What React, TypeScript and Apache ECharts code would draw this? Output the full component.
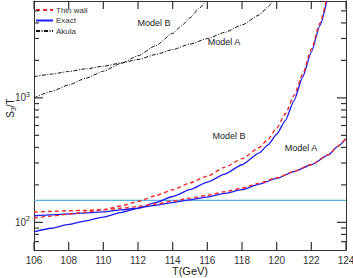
import React, { useEffect, useRef } from "react";
import * as echarts from "echarts";

// Temperatures (GeV) and S3/T values
const T_THIN_B = [106, 107, 108, 109, 110, 111, 112, 113, 114, 115, 116, 117, 118, 119, 119.5, 120, 120.5, 121, 121.5, 122, 122.5, 122.85];
const THIN_B = [108.4, 112.2, 116.4, 121, 126.5, 135.5, 147.2, 163.7, 182.8, 207.5, 235.5, 276.7, 325.1, 399.9, 464.5, 571.5, 744.7, 1047, 1549, 2455, 3981, 6000];

const T_EXACT_B = [106, 107, 108, 109, 110, 111, 112, 113, 114, 115, 116, 117, 118, 119, 119.5, 120, 120.5, 121, 121.5, 122, 122.5, 122.89];
const EXACT_B = [83.8, 89.7, 96.2, 103, 110.4, 119.7, 129.7, 143.9, 161.4, 183.2, 210.4, 244.3, 290.4, 361.4, 419.8, 510.5, 657.7, 950.6, 1472, 2333, 3828, 6000];

const T_THIN_A = [106, 107, 108, 109, 110, 111, 112, 113, 114, 115, 116, 117, 118, 119, 120, 121, 122, 123, 123.5, 124];
const THIN_A = [121.1, 122.5, 123.9, 125.0, 126.5, 129.7, 134.0, 140.3, 148.2, 156.7, 165.2, 176.2, 188.4, 206.5, 228.0, 257.0, 291.7, 350.8, 406.4, 472.0];

const T_EXACT_A = [106, 107, 108, 109, 110, 111, 112, 113, 114, 115, 116, 117, 118, 119, 120, 121, 122, 123, 123.5, 124];
const EXACT_A = [113, 115.1, 117.2, 119.4, 121.6, 125.9, 130.3, 137.1, 144.2, 151.7, 159.6, 171, 183.2, 203.2, 225.4, 255.9, 290.4, 349.1, 405.5, 471];

const T_AKULA_A = [106, 107, 108, 109, 110, 111, 112, 113, 114, 115, 116, 117, 118, 119, 119.5, 119.76];
const AKULA_A = [1479, 1552, 1629, 1710, 1795, 1905, 2032, 2228, 2443, 2704, 2992, 3357, 3855, 4634, 5383, 6000];

const T_AKULA_B = [106, 107, 108, 109, 110, 111, 112, 113, 114, 114.5, 115, 115.5, 115.9];
const AKULA_B = [1000, 1125, 1271, 1441, 1637, 1888, 2178, 2618, 3296, 3784, 4395, 5190, 6000];

const T_REF = [106, 124];
const REF = [150, 150];

const X_MIN = 106;
const X_MAX = 124;
const X_STEP = 2;
const X_TICKS = [106, 108, 110, 112, 114, 116, 118, 120, 122, 124];
const Y_MIN = 60;
const Y_MAX = 6000;
const Y_MAJOR = [100, 1000];
const Y_MINOR = [70, 80, 90, 200, 300, 400, 500, 600, 700, 800, 900, 2000, 3000, 4000, 5000];

const LEGEND = ["Thin wall", "Exact", "Akula"];

const FONT = "'Liberation Sans', Arial, Helvetica, sans-serif";

const pairs = (xs: number[], ys: number[]) => xs.map((x, i) => [x, ys[i]]);

export default function App() {
  const ref = useRef<HTMLDivElement>(null);
  useEffect(() => {
    if (!ref.current) return;
    const chart = echarts.init(ref.current, undefined, { renderer: "svg" });
    const axisColor = "#333";
    const red = "#f02a2a";
    const blue = "#1c1cf0";
    const black = "#111";
    const lineBase = {
      type: "line" as const,
      symbol: "none",
      showSymbol: false,
      smooth: 0.2,
      smoothMonotone: "x",
      xAxisIndex: 0,
      yAxisIndex: 0,
    };
    const yCommon = {
      type: "log" as const,
      logBase: 10,
      min: Y_MIN,
      max: Y_MAX,
      splitLine: { show: false },
      axisTick: { show: false },
    };
    const tickLine = (x1: number, y1: number, x2: number, y2: number) => ({
      type: "line",
      shape: { x1, y1, x2, y2 },
      style: { stroke: "#333333", lineWidth: 1.2 },
    });
    // tick rows: [x, y, length, kind] ; kind 0 = x tick, 1 = y tick
    const tickRows = [
      ...X_TICKS.map((v) => [v, Y_MIN, 8, 0]),
      ...Y_MAJOR.map((v) => [X_MIN, v, 9, 1]),
      ...Y_MINOR.map((v) => [X_MIN, v, 5, 1]),
    ];
    const option: any = {
      animation: false,
      textStyle: { fontFamily: FONT },
      grid: { left: 34, right: 7, top: 1, bottom: 28, containLabel: false, outerBoundsMode: "none" },
      legend: {
        data: LEGEND,
        orient: "vertical",
        left: 35,
        top: 6,
        padding: 0,
        itemWidth: 17,
        itemHeight: 8,
        itemGap: 2.5,
        itemStyle: { opacity: 0 },
        textStyle: { fontSize: 8, color: "#333", fontFamily: FONT, padding: [0, 0, 0, -2] },
        selectedMode: false,
      },
      xAxis: [
        {
          type: "value",
          min: X_MIN,
          max: X_MAX,
          interval: X_STEP,
          position: "bottom",
          name: "T(GeV)",
          nameLocation: "middle",
          nameGap: 15,
          nameMoveOverlap: false,
          nameTextStyle: { fontSize: 11, lineHeight: 11, color: "#222", fontFamily: FONT },
          axisLine: { show: true, lineStyle: { color: axisColor, width: 1 } },
          axisTick: { show: false },
          axisLabel: { fontSize: 10, color: "#333", margin: 5, fontFamily: FONT },
          splitLine: { show: false },
        },
        {
          type: "value",
          min: X_MIN,
          max: X_MAX,
          interval: X_STEP,
          position: "top",
          axisLine: { show: true, lineStyle: { color: axisColor, width: 1 } },
          axisTick: { show: false },
          axisLabel: { show: false },
          splitLine: { show: false },
        },
      ],
      yAxis: [
        {
          ...yCommon,
          position: "left",
          axisLine: { show: true, lineStyle: { color: axisColor, width: 1 } },
          axisLabel: {
            show: true,
            customValues: Y_MAJOR,
            margin: 4,
            formatter: (v: number) => "{b|10}{s|" + Math.round(Math.log10(v)) + "}",
            rich: {
              b: { fontSize: 10, color: "#333", fontFamily: FONT, lineHeight: 14 },
              s: { fontSize: 7, color: "#333", fontFamily: FONT, lineHeight: 8, verticalAlign: "top" },
            },
          },
        },
        {
          ...yCommon,
          position: "right",
          axisLine: { show: true, lineStyle: { color: axisColor, width: 1 } },
          axisLabel: { show: false },
        },
      ],
      graphic: [
        {
          type: "text",
          x: 10,
          y: 108,
          rotation: Math.PI / 2,
          style: {
            text: "{b|S}{s|3}{b|/T}",
            textAlign: "center",
            textVerticalAlign: "middle",
            align: "center",
            verticalAlign: "middle",
            rich: {
              b: { fontSize: 10, fill: "#222", fontFamily: FONT, lineHeight: 14 },
              s: { fontSize: 7, fill: "#222", fontFamily: FONT, lineHeight: 7, verticalAlign: "bottom" },
            },
          },
        },
        ...[
          ["Model B", 154, 23],
          ["Model A", 224, 42],
          ["Model B", 229, 136],
          ["Model A", 301, 148],
        ].map(([t, x, y]) => ({
          type: "text",
          x,
          y,
          style: {
            text: t,
            fontSize: 9,
            fontFamily: FONT,
            fill: "#222",
            textAlign: "center",
            textVerticalAlign: "middle",
            align: "center",
            verticalAlign: "middle",
          },
        })),
      ],
      series: [
        {
          type: "custom",
          name: "ticks",
          coordinateSystem: "cartesian2d",
          xAxisIndex: 0,
          yAxisIndex: 0,
          silent: true,
          clip: false,
          data: tickRows,
          renderItem: (params: any, api: any) => {
            const cs = params.coordSys;
            const p = api.coord([api.value(0), api.value(1)]);
            const len = api.value(2);
            const kind = api.value(3);
            if (kind === 0) {
              const b = cs.y + cs.height;
              return {
                type: "group",
                children: [tickLine(p[0], b, p[0], b - len), tickLine(p[0], cs.y, p[0], cs.y + len)],
              };
            }
            const r = cs.x + cs.width;
            return {
              type: "group",
              children: [tickLine(cs.x, p[1], cs.x + len, p[1]), tickLine(r, p[1], r - len, p[1])],
            };
          },
          z: 5,
        },
        {
          ...lineBase,
          name: "ref",
          smooth: false,
          data: pairs(T_REF, REF),
          lineStyle: { color: "#5aafe3", width: 1.2 },
          itemStyle: { color: "#5aafe3" },
          z: 1,
        },
        {
          ...lineBase,
          name: "Akula",
          data: pairs(T_AKULA_A, AKULA_A),
          lineStyle: { color: black, width: 1, type: [4, 1.5, 1, 1.5] },
          itemStyle: { color: black },
        },
        {
          ...lineBase,
          name: "Akula",
          data: pairs(T_AKULA_B, AKULA_B),
          lineStyle: { color: black, width: 1, type: [4, 1.5, 1, 1.5] },
          itemStyle: { color: black },
        },
        {
          ...lineBase,
          name: "Exact",
          data: pairs(T_EXACT_A, EXACT_A),
          lineStyle: { color: blue, width: 1.3 },
          itemStyle: { color: blue },
        },
        {
          ...lineBase,
          name: "Exact",
          data: pairs(T_EXACT_B, EXACT_B),
          lineStyle: { color: blue, width: 1.3 },
          itemStyle: { color: blue },
        },
        {
          ...lineBase,
          name: "Thin wall",
          data: pairs(T_THIN_A, THIN_A),
          lineStyle: { color: red, width: 1.4, type: [4, 3] },
          itemStyle: { color: red },
          z: 3,
        },
        {
          ...lineBase,
          name: "Thin wall",
          data: pairs(T_THIN_B, THIN_B),
          lineStyle: { color: red, width: 1.4, type: [4, 3] },
          itemStyle: { color: red },
          z: 3,
        },
      ],
    };
    chart.setOption(option);
    return () => chart.dispose();
  }, []);
  return (
    <div
      ref={ref}
      style={{ position: "fixed", left: 0, top: 0, width: 353, height: 278, background: "#fff" }}
    />
  );
}
